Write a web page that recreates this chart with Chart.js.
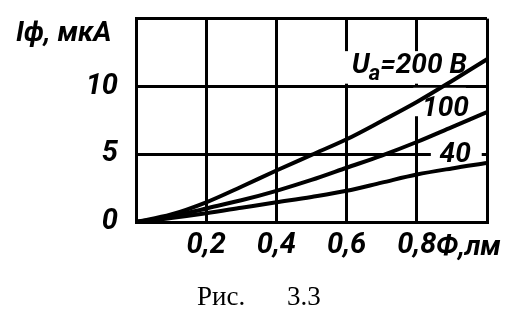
<!DOCTYPE html>
<html><head><meta charset="utf-8">
<script src="https://cdn.jsdelivr.net/npm/chart.js@4/dist/chart.umd.min.js"></script>
<style>html,body{margin:0;padding:0;background:#fff;}#wrap{width:526px;height:334px;position:relative;}</style>
</head><body><div id="wrap"><canvas id="c" width="526" height="334"></canvas></div>
<script>
// Flux, lm
const fluxValues = [0, 0.1, 0.2, 0.3, 0.4, 0.5, 0.6, 0.7, 0.8, 0.9, 1.0];
// Photocurrent, uA, for anode voltages
const current200V = [0, 0.55, 1.45, 2.6, 3.8, 4.95, 6.1, 7.45, 8.85, 10.4, 12.0];
const current100V = [0, 0.4, 1.0, 1.6, 2.3, 3.1, 4.0, 4.9, 5.9, 7.0, 8.1];
const current40V  = [0, 0.3, 0.65, 1.05, 1.45, 1.85, 2.3, 2.9, 3.5, 3.95, 4.35];
const xTickLabels = ['0,2', '0,4', '0,6', '0,8'];
const yTickLabels = ['0', '5', '10'];
const curveLabels = ['U_a=200 B', '100', '40'];
const yTitle = 'Iф, мкА';
const xTitle = 'Ф,лм';
const caption = 'Рис. 3.3';

const FAM = 'Roboto, "DejaVu Sans", sans-serif';
const FONT = 'italic bold 28px ' + FAM;
const pts = arr => arr.map((v, i) => ({x: fluxValues[i], y: v}));
const ds = (arr) => ({data: pts(arr), borderColor: '#000', borderWidth: 4, pointRadius: 0, tension: 0.4, cubicInterpolationMode: 'monotone', fill: false});
const tickFont = (ctx, hideVal) => (ctx.tick && Math.abs(ctx.tick.value - hideVal) < 1e-6)
  ? {family: FAM, size: 1} : {family: FAM, size: 29, style: 'italic', weight: 'bold'};

const textPlugin = {
  id: 'texts',
  beforeDatasetsDraw(chart) {
    const ctx = chart.ctx, xs = chart.scales.x, ys = chart.scales.y;
    const box = (x0, x1, y0, y1) => {
      const a = xs.getPixelForValue(x0), b = xs.getPixelForValue(x1);
      const c = ys.getPixelForValue(y0), d = ys.getPixelForValue(y1);
      ctx.fillRect(a, d, b - a, c - d);
    };
    ctx.save();
    ctx.fillStyle = '#fff';
    box(0.595, 0.94, 10.2, 12.6);
    box(0.79, 0.94, 7.8, 9.9);
    box(0.84, 0.985, 4.6, 6.2);
    ctx.restore();
  },
  afterDatasetsDraw(chart) {
    const ctx = chart.ctx, xs = chart.scales.x, ys = chart.scales.y;
    ctx.save();
    ctx.fillStyle = '#000';
    ctx.font = FONT;
    ctx.textBaseline = 'alphabetic';
    ctx.textAlign = 'left';
    // Ua=200 B
    let x = xs.getPixelForValue(0.615), y = ys.getPixelForValue(11.0);
    ctx.fillText('U', x, y);
    let w = ctx.measureText('U').width;
    ctx.font = 'italic bold 22px ' + FAM;
    ctx.fillText('a', x + w - 1, y + 7);
    let w2 = ctx.measureText('a').width;
    ctx.font = FONT;
    ctx.fillText('=200 B', x + w + w2 - 1, y);
    ctx.fillText(curveLabels[1], xs.getPixelForValue(0.815), ys.getPixelForValue(7.8));
    ctx.fillText(curveLabels[2], xs.getPixelForValue(0.865), ys.getPixelForValue(4.4));
    // axis titles
    ctx.font = 'italic bold 28px ' + FAM;
    ctx.fillText(yTitle, 16, 41);
    ctx.font = FONT;
    ctx.fillText(xTitle, 436, 255);
    // caption
    const parts = caption.split(' ');
    ctx.font = '27px "Liberation Serif", "Times New Roman", serif';
    ctx.fillText(parts[0], 197, 305);
    ctx.fillText(parts[1], 287, 305);
    ctx.restore();
  }
};

new Chart(document.getElementById('c'), {
  type: 'line',
  data: {datasets: [ds(current200V), ds(current100V), ds(current40V)]},
  options: {
    responsive: false, animation: false,
    layout: {padding: {top: 14, right: 39, left: 0, bottom: 0}},
    plugins: {legend: {display: false}, tooltip: {enabled: false}},
    scales: {
      x: {
        type: 'linear', min: 0, max: 1.0,
        ticks: {stepSize: 0.2, color: '#000', font: (c) => tickFont(c, 1.0), padding: 6,
          callback: (v) => { const i = Math.round(v * 5) - 1; return (i >= 0 && i < xTickLabels.length) ? xTickLabels[i] : ''; }},
        grid: {color: '#000', lineWidth: 3, drawTicks: false},
        border: {color: '#000', width: 3},
        afterFit: (s) => { s.height = 112; }
      },
      y: {
        min: 0, max: 15,
        ticks: {stepSize: 5, color: '#000', font: (c) => tickFont(c, 15), padding: 18,
          callback: (v) => { const i = Math.round(v / 5); return i < yTickLabels.length ? yTickLabels[i] : ''; }},
        grid: {color: '#000', lineWidth: 3, drawTicks: false},
        border: {color: '#000', width: 3},
        afterFit: (s) => { s.width = 136; }
      }
    }
  },
  plugins: [textPlugin]
});
</script></body></html>
